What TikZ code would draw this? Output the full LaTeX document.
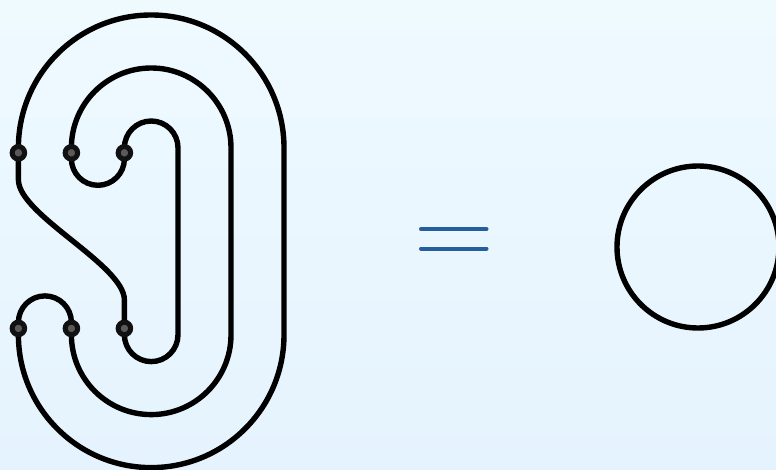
\documentclass[tikz,border=0pt]{standalone}
\pgfdeclarelayer{bg}
\pgfdeclarelayer{strands}
\pgfsetlayers{bg,strands,main}
\definecolor{skytop}{HTML}{EFFAFF}
\definecolor{skybot}{HTML}{E5F3FE}
\definecolor{eqblue}{HTML}{255E9C}
\definecolor{dotrim}{HTML}{111111}
\definecolor{dotcore}{HTML}{5A5A5A}
\tikzset{
  strand/.style={draw=black,line width=5.4pt,line join=round},
  junction/.style={circle,draw=dotrim,fill=dotcore,line width=5pt,minimum size=12.5pt,inner sep=0pt,outer sep=0pt},
  loopshape/.style={circle,draw=black,line width=5.4pt,minimum size=162pt,inner sep=0pt,outer sep=0pt},
  eqbar/.style={draw=eqblue,line width=4pt,line cap=round}
}
\begin{document}
\begin{tikzpicture}[x=1pt,y=1pt]
\useasboundingbox (0,0) rectangle (776,469);
\begin{pgfonlayer}{bg}
  \shade[top color=skytop,bottom color=skybot] (0,0) rectangle (776,469);
\end{pgfonlayer}
% junctions
\node[junction] (t1) at (18.4,316.2) {};
\node[junction] (t2) at (71.4,316.2) {};
\node[junction] (t3) at (124.4,316.2) {};
\node[junction] (b1) at (18.4,140.6) {};
\node[junction] (b2) at (71.4,140.6) {};
\node[junction] (b3) at (124.4,140.6) {};
\begin{pgfonlayer}{strands}
  % nested arcs
  \draw[strand] (t1.center) -- ++(0,5) arc[start angle=180,end angle=0,radius=132.8pt] -- ++(0,-187) arc[start angle=0,end angle=-180,radius=132.8pt] -- (b1.center);
  \draw[strand] (t2.center) -- ++(0,5) arc[start angle=180,end angle=0,radius=79.8pt] -- ++(0,-187) arc[start angle=0,end angle=-180,radius=79.8pt] -- (b2.center);
  \draw[strand] (t3.center) -- ++(0,5) arc[start angle=180,end angle=0,radius=26.8pt] -- ++(0,-187) arc[start angle=0,end angle=-180,radius=26.8pt] -- (b3.center);
  % caps
  \draw[strand] (t2.center) -- ++(0,-6) arc[start angle=180,end angle=360,radius=26.5pt] -- (t3.center);
  \draw[strand] (b1.center) -- ++(0,6) arc[start angle=180,end angle=0,radius=26.5pt] -- (b2.center);
  % S-curve
  \draw[strand] (t1.center) -- ++(0,-27) .. controls +(0,-35) and (124.4,204) .. (124.4,169) -- (b3.center);
\end{pgfonlayer}
% equals sign
\coordinate (e1a) at (421,239.7);
\coordinate (e1b) at (486.5,239.7);
\coordinate (e2a) at (421,220.4);
\coordinate (e2b) at (486.5,220.4);
\draw[eqbar] (e1a) -- (e1b);
\draw[eqbar] (e2a) -- (e2b);
% unknot
\node[loopshape] (loop) at (698,222) {};
\end{tikzpicture}
\end{document}
